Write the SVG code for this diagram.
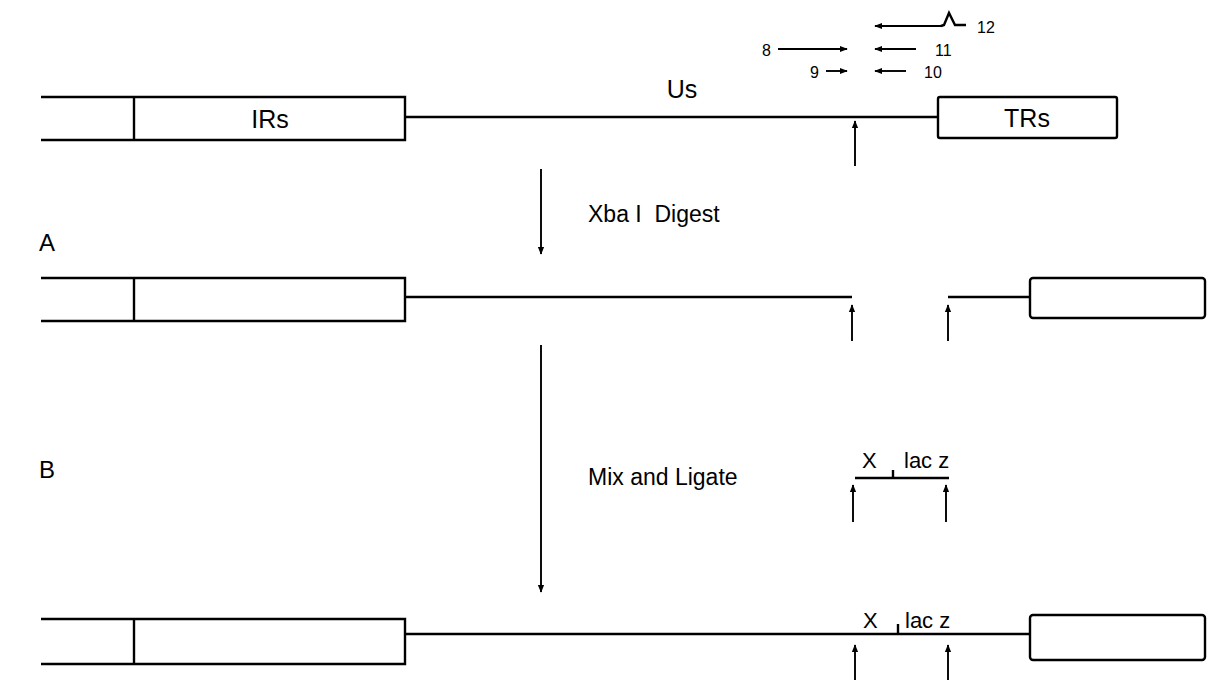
<svg xmlns="http://www.w3.org/2000/svg" width="1220" height="684" viewBox="0 0 1220 684">
<defs>
<marker id="ah" viewBox="0 0 10 10" refX="9" refY="5" markerWidth="8" markerHeight="8" orient="auto-start-reverse" markerUnits="userSpaceOnUse">
<path d="M0,1 L10,5 L0,9 z" fill="#000"/>
</marker>
<style>
.l{stroke:#000;stroke-width:2.4;fill:none}
.b{stroke:#000;stroke-width:2.4;fill:#fff}
.t{font-family:"Liberation Sans",Arial,sans-serif;fill:#000}
.a{stroke:#000;stroke-width:1.9;fill:none;marker-end:url(#ah)}
.n{font-size:16px}
</style>
</defs>
<rect width="1220" height="684" fill="#fff"/>

<g id="labels">
<text class="t" x="39" y="251" font-size="24">A</text>
<text class="t" x="39" y="478" font-size="24">B</text>
<text class="t" x="588" y="222" font-size="23" xml:space="preserve">Xba I  Digest</text>
<text class="t" x="588" y="485" font-size="23">Mix and Ligate</text>
</g>

<g id="primers">
<line class="a" x1="942" y1="26" x2="875" y2="26"/>
<path class="l" d="M941,26 L944,25 L949,13 L955,25 L966,25" stroke-width="1.9"/>
<text class="t n" x="977" y="33">12</text>
<text class="t n" x="762" y="56">8</text>
<line class="a" x1="778" y1="49" x2="847" y2="49"/>
<line class="a" x1="916" y1="49" x2="875" y2="49"/>
<text class="t n" x="935" y="56">11</text>
<text class="t n" x="810" y="78">9</text>
<line class="a" x1="826" y1="71" x2="847" y2="71"/>
<line class="a" x1="906" y1="71" x2="875" y2="71"/>
<text class="t n" x="924" y="78">10</text>
</g>

<g id="row1">
<path class="l" d="M41,97 H405 V140 H41"/>
<line class="l" x1="134" y1="97" x2="134" y2="140"/>
<text class="t" x="270" y="128" font-size="25" text-anchor="middle">IRs</text>
<line class="l" x1="405" y1="117" x2="938" y2="117"/>
<text class="t" x="682" y="98" font-size="25" text-anchor="middle">Us</text>
<rect class="b" x="938" y="97" width="179" height="41" rx="2"/>
<text class="t" x="1027" y="127" font-size="25" text-anchor="middle">TRs</text>
<line class="a" x1="855" y1="166" x2="855" y2="121"/>
</g>

<g id="row2">
<path class="l" d="M41,278 H405 V321 H41"/>
<line class="l" x1="134" y1="278" x2="134" y2="321"/>
<line class="l" x1="405" y1="297" x2="852" y2="297"/>
<line class="l" x1="948" y1="297" x2="1030" y2="297"/>
<rect class="b" x="1030" y="278" width="175" height="40" rx="3"/>
<line class="a" x1="852" y1="341" x2="852" y2="305"/>
<line class="a" x1="948" y1="341" x2="948" y2="305"/>
</g>

<g id="fragment">
<line class="l" x1="855" y1="478" x2="949" y2="478"/>
<line class="l" x1="893" y1="470" x2="893" y2="478" stroke-width="1.9"/>
<text class="t" x="862" y="468" font-size="22">X</text>
<text class="t" x="904" y="468" font-size="22">lac z</text>
<line class="a" x1="853" y1="522" x2="853" y2="485"/>
<line class="a" x1="946" y1="522" x2="946" y2="485"/>
</g>

<g id="row4">
<path class="l" d="M41,619 H405 V664 H41"/>
<line class="l" x1="134" y1="619" x2="134" y2="664"/>
<line class="l" x1="405" y1="634" x2="1030" y2="634"/>
<line class="l" x1="898" y1="624" x2="898" y2="634" stroke-width="1.9"/>
<text class="t" x="863" y="628" font-size="22">X</text>
<text class="t" x="905" y="628" font-size="22">lac z</text>
<rect class="b" x="1030" y="615" width="175" height="45" rx="3"/>
<line class="a" x1="855" y1="680" x2="855" y2="645"/>
<line class="a" x1="948" y1="680" x2="948" y2="645"/>
</g>

<g id="connectors">
<line class="a" x1="541" y1="169" x2="541" y2="254"/>
<line class="a" x1="541" y1="345" x2="541" y2="592"/>
</g>
</svg>
